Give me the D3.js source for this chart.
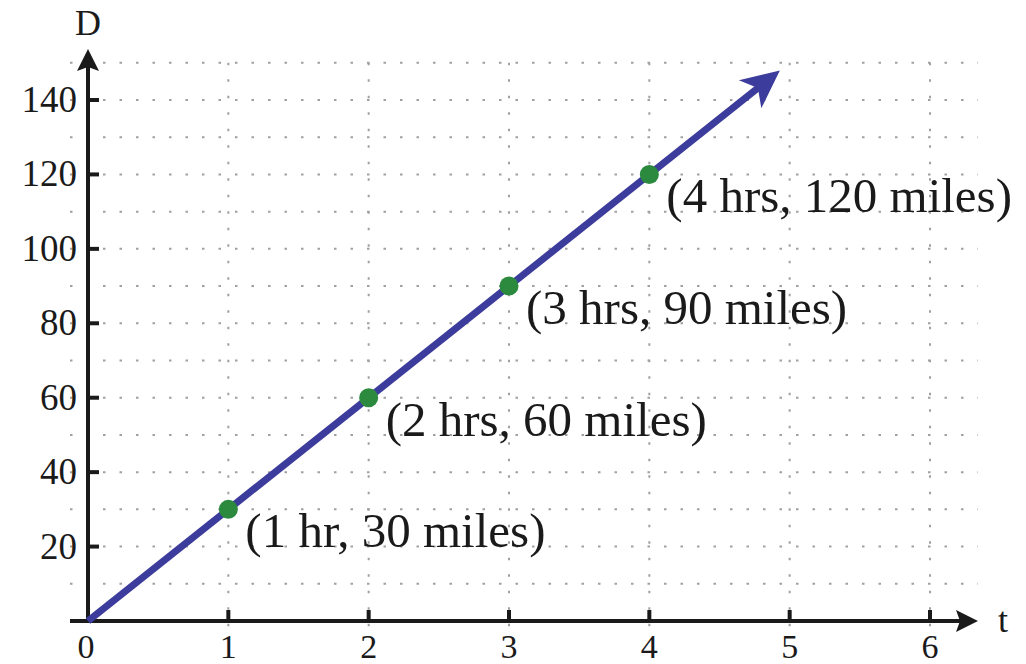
<!DOCTYPE html>
<html lang="en">
<head>
<meta charset="UTF-8">
<title>Distance vs time</title>
<style>
  body { margin: 0; background: #fff; }
  svg text { font-family: "Liberation Serif", "Times New Roman", serif; fill: #1a1a1a; }
</style>
</head>
<body>
<div id="chart"></div>
<script src="https://d3js.org/d3.v7.min.js"></script>
<script>
// data
const hours = [1, 2, 3, 4];
const miles = [30, 60, 90, 120];
const pointLabels = ["(1 hr, 30 miles)", "(2 hrs, 60 miles)", "(3 hrs, 90 miles)", "(4 hrs, 120 miles)"];
const xTicks = [0, 1, 2, 3, 4, 5, 6];
const yTicks = [20, 40, 60, 80, 100, 120, 140];
const gridY = [10, 20, 30, 40, 50, 60, 70, 80, 90, 100, 110, 120, 130, 140, 150];
const speed = 30;        // miles per hour
const lineEndT = 4.93;   // where the arrow tip sits

const svg = d3.select("#chart").append("svg")
    .attr("width", 1026)
    .attr("height", 664);

const x = d3.scaleLinear().domain([0, 6]).range([88, 930]);
const y = d3.scaleLinear().domain([0, 140]).range([621, 100]);

// dotted grid
const grid = svg.append("g")
    .attr("stroke", "#a0a0a0")
    .attr("stroke-width", 2)
    .attr("stroke-dasharray", "2.5,14");

grid.selectAll(".gy").data(gridY).enter().append("line")
    .attr("x1", 70).attr("x2", 978)
    .attr("y1", d => y(d)).attr("y2", d => y(d));

grid.selectAll(".gx").data(xTicks.filter(d => d > 0)).enter().append("line")
    .attr("x1", d => x(d)).attr("x2", d => x(d))
    .attr("y1", y(150)).attr("y2", 634);

// axes
const axes = svg.append("g").attr("stroke", "#1a1a1a").attr("stroke-width", 4);
axes.append("line").attr("x1", 70).attr("x2", 965).attr("y1", y(0)).attr("y2", y(0));
axes.append("line").attr("x1", x(0)).attr("x2", x(0)).attr("y1", y(0) + 2).attr("y2", 64);

function arrowHead(tx, ty, angle, len, half, notch, color) {
    const p = `M0,0 L${-len},${-half} L${-len + notch},0 L${-len},${half} Z`;
    svg.append("path")
        .attr("d", p)
        .attr("fill", color)
        .attr("transform", `translate(${tx},${ty}) rotate(${angle})`);
}
arrowHead(978, y(0), 0, 22, 11, 4, "#1a1a1a");
arrowHead(x(0), 49, -90, 22, 11, 4, "#1a1a1a");

// ticks
axes.selectAll(".ty").data(yTicks).enter().append("line")
    .attr("x1", x(0)).attr("x2", x(0) + 11)
    .attr("y1", d => y(d)).attr("y2", d => y(d));
axes.selectAll(".tx").data(xTicks.filter(d => d > 0)).enter().append("line")
    .attr("x1", d => x(d)).attr("x2", d => x(d))
    .attr("y1", y(0)).attr("y2", y(0) - 11);

svg.selectAll(".ly").data(yTicks).enter().append("text")
    .attr("x", 77).attr("y", d => y(d) + 12)
    .attr("text-anchor", "end")
    .attr("font-size", 37)
    .text(d => d);

svg.selectAll(".lx").data(xTicks).enter().append("text")
    .attr("x", d => d === 0 ? x(d) - 2 : x(d)).attr("y", 658)
    .attr("text-anchor", "middle")
    .attr("font-size", 34)
    .text(d => d);

svg.append("text").attr("x", x(0)).attr("y", 35)
    .attr("text-anchor", "middle").attr("font-size", 36).text("D");
svg.append("text").attr("x", 998).attr("y", 632)
    .attr("font-size", 36).text("t");

// the line D = 30t
const lineColor = "#3c3c9c";
const x0 = x(0), y0 = y(0), x1 = x(lineEndT), y1 = y(speed * lineEndT);
const ang = Math.atan2(y1 - y0, x1 - x0) * 180 / Math.PI;
const back = 26;
const dl = Math.hypot(x1 - x0, y1 - y0);
svg.append("line")
    .attr("x1", x0).attr("y1", y0)
    .attr("x2", x1 - (x1 - x0) / dl * back).attr("y2", y1 - (y1 - y0) / dl * back)
    .attr("stroke", lineColor).attr("stroke-width", 7);
arrowHead(x1, y1, ang, 38, 18, 10, lineColor);

// points
svg.selectAll(".pt").data(hours).enter().append("circle")
    .attr("cx", d => x(d)).attr("cy", (d, i) => y(miles[i]))
    .attr("r", 9.5)
    .attr("fill", "#2b8a3e");

svg.selectAll(".pl").data(hours).enter().append("text")
    .attr("x", d => x(d) + 17).attr("y", (d, i) => y(miles[i]) + 38)
    .attr("font-size", 49)
    .text((d, i) => pointLabels[i]);
</script>
</body>
</html>
